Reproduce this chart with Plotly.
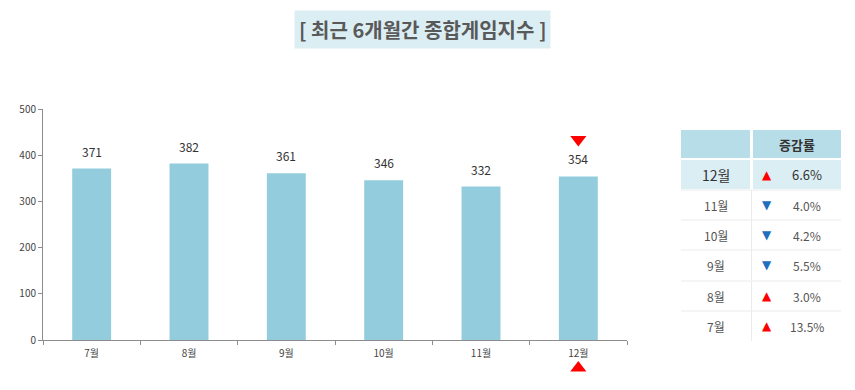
import plotly.graph_objects as go

months = ["7월", "8월", "9월", "10월", "11월", "12월"]
values = [371, 382, 361, 346, 332, 354]
yticks = [0, 100, 200, 300, 400, 500]

table_months = ["12월", "11월", "10월", "9월", "8월", "7월"]
table_dirs = ["up", "down", "down", "down", "up", "up"]
table_rates = ["6.6%", "4.0%", "4.2%", "5.5%", "3.0%", "13.5%"]
table_header = "증감률"
title_text = "[ 최근 6개월간 종합게임지수 ]"

FONT = "Noto Sans CJK KR, Noto Sans, sans-serif"
W, H = 855, 390
L, R, T, B = 43, 228, 109, 10
PW, PH = W - L - R, H - T - B
AXIS_Y = 340          # pixel row of the value axis baseline
main_bottom = (H - B - AXIS_Y) / PH
marker_dom_top = main_bottom - 0.005
marker_span = marker_dom_top * PH   # pixels of the lower strip


def px(x):
    return (x - L) / PW


def py(y):
    return (H - B - y) / PH


def note(x, y, text, size, color, family=FONT, **kw):
    fig.add_annotation(xref="paper", yref="paper", x=px(x), y=py(y), text=text, showarrow=False,
                       xanchor="center", yanchor="middle",
                       font=dict(family=family, size=size, color=color), **kw)


fig = go.Figure()
fig.add_trace(go.Bar(x=months, y=values, marker=dict(color="#93CDDD", line_width=0),
                     width=0.4, hoverinfo="skip"))

# value labels
for m, v in zip(months, values):
    fig.add_annotation(x=m, y=v, text=str(v), showarrow=False, yanchor="bottom", yshift=7,
                       font=dict(family=FONT, size=12, color="#333333"))

# highlight triangles for latest month
fig.add_trace(go.Scatter(x=[months[-1]], y=[434], mode="markers", cliponaxis=False,
                         marker=dict(symbol="triangle-down", size=14, color="#FF0000"),
                         hoverinfo="skip"))
fig.add_trace(go.Scatter(x=[months[-1]], y=[H - B - 368], mode="markers", cliponaxis=False,
                         xaxis="x2", yaxis="y2",
                         marker=dict(symbol="triangle-up", size=14, color="#FF0000"),
                         hoverinfo="skip"))

# title
note(422, 29, "<b>" + title_text + "</b>", 20, "#595959", bgcolor="#DBEEF3", borderpad=4)

# table
c1x0, c1x1, c2x0, c2x1 = 681, 750, 753, 841
hdr_y0, hdr_y1 = 130, 158
row_tops = [160, 190, 220, 250, 281, 311]
row_h = 30
shapes = []
hdr_col = "#B7DDE8"
for a, b in ((c1x0, c1x1), (c2x0, c2x1)):
    shapes.append(dict(type="rect", xref="paper", yref="paper", x0=px(a), x1=px(b), y0=py(hdr_y1), y1=py(hdr_y0),
                       fillcolor=hdr_col, line_width=0, layer="below"))
note((c2x0 + c2x1) / 2, (hdr_y0 + hdr_y1) / 2, "<b>" + table_header + "</b>", 13, "#333333")
for i, (m, d, r) in enumerate(zip(table_months, table_dirs, table_rates)):
    y0 = row_tops[i]
    y1 = y0 + row_h - (1 if i == 0 else 0)
    yc = (y0 + y1) / 2
    if i == 0:
        for a, b in ((c1x0, c1x1), (c2x0, c2x1)):
            shapes.append(dict(type="rect", xref="paper", yref="paper", x0=px(a), x1=px(b), y0=py(y1), y1=py(y0),
                               fillcolor="#DBEEF3", line_width=0, layer="below"))
    else:
        shapes.append(dict(type="line", xref="paper", yref="paper", x0=px(c1x0), x1=px(c2x1), y0=py(y0), y1=py(y0),
                           line=dict(color="#EBEBEB", width=1)))
        shapes.append(dict(type="line", xref="paper", yref="paper", x0=px(751.5), x1=px(751.5), y0=py(y0), y1=py(y0 + row_h),
                           line=dict(color="#EBEBEB", width=1)))
    note((c1x0 + c1x1) / 2, yc, m, 14 if i == 0 else 12, "#333333" if i == 0 else "#555555")
    arrow = "▲" if d == "up" else "▼"
    acol = "#FF0000" if d == "up" else "#1F6FBF"
    note(767, yc, arrow, 12, acol, family="DejaVu Sans")
    note(807, yc, r, 13 if i == 0 else 12, "#333333" if i == 0 else "#555555")

fig.update_layout(
    width=W, height=H, margin=dict(l=L, r=R, t=T, b=B, pad=0, autoexpand=False),
    paper_bgcolor="white", plot_bgcolor="white", showlegend=False,
    shapes=shapes,
    font=dict(family=FONT, color="#444444"),
    xaxis=dict(anchor="y", showline=True, linecolor="#8C8C8C", linewidth=1, ticks="outside", tickson="boundaries",
               ticklen=4, tickcolor="#8C8C8C", showgrid=False, tickfont=dict(size=10, color="#444444"),
               ticklabelstandoff=4, fixedrange=True, automargin=False),
    yaxis=dict(domain=[main_bottom, 1], range=[0, 500], tickvals=yticks, showline=True, linecolor="#8C8C8C",
               linewidth=1, ticks="outside", ticklen=4, tickcolor="#8C8C8C", showgrid=False, zeroline=False,
               tickfont=dict(size=10, color="#444444"), fixedrange=True, automargin=False),
    xaxis2=dict(anchor="y2", matches="x", visible=False, fixedrange=True, automargin=False),
    yaxis2=dict(domain=[0, marker_dom_top], range=[0, marker_span], visible=False, fixedrange=True,
                automargin=False),
)
fig.write_html("out.html")
